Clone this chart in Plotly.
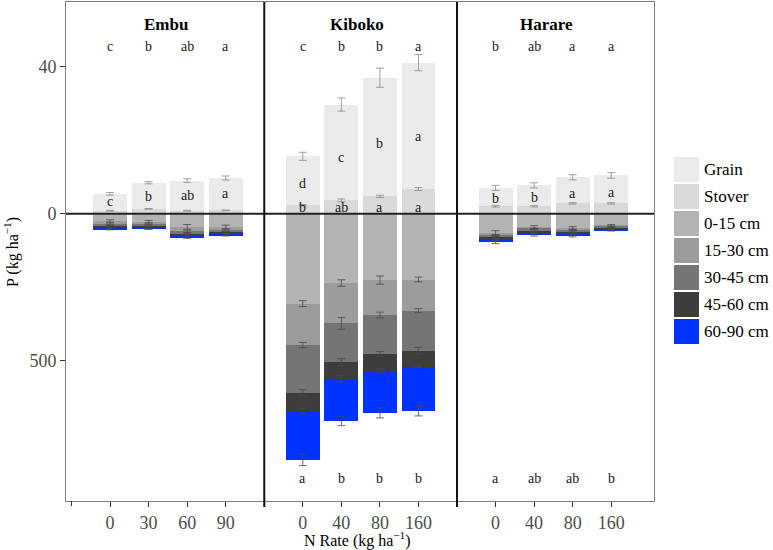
import plotly.graph_objects as go

# ---------------- data ----------------
sites = ["Embu", "Kiboko", "Harare"]
n_rates = [["0", "30", "60", "90"], ["0", "40", "80", "160"], ["0", "40", "80", "160"]]

# plant P (kg/ha), order: Embu x4, Kiboko x4, Harare x4
grain = [4.6, 7.1, 8.2, 8.8, 13.3, 26.1, 32.3, 34.4, 5.0, 5.7, 7.1, 7.6]
stover = [0.8, 1.3, 0.8, 0.9, 2.3, 3.6, 4.7, 6.7, 2.0, 2.0, 2.8, 2.8]
grain_se = [0.35, 0.3, 0.5, 0.55, 1.1, 1.8, 2.6, 2.2, 0.7, 0.7, 0.7, 0.75]
stover_se = [0.1, 0.1, 0.1, 0.1, 0.2, 0.4, 0.3, 0.4, 0.2, 0.2, 0.2, 0.2]

# soil P (kg/ha) by depth
soil_0_15 = [25, 27, 45, 45, 306, 236, 226, 224, 66, 46, 49, 40]
soil_15_30 = [10, 8, 15, 12, 141, 137, 119, 106, 8, 6, 6, 5]
soil_30_45 = [8, 7, 10, 8, 162, 132, 132, 136, 7, 6, 7, 5]
soil_45_60 = [6, 6, 8, 6, 63, 57, 57, 54, 8, 8, 8, 4]
soil_60_90 = [4, 4, 4, 3, 165, 144, 144, 152, 9, 7, 6, 3]
soil_0_15_se = [4, 4, 8, 6, 10, 11, 14, 8, 8, 5, 5, 3]
soil_15_30_se = [3, 3, 4, 3, 9, 20, 10, 7, 3, 3, 3, 2]
soil_30_45_se = [3, 3, 3, 3, 10, 12, 8, 11, 3, 3, 3, 2]
soil_45_60_se = [3, 3, 3, 3, 10, 11, 6, 4, 3, 3, 3, 2]
soil_60_90_se = [2, 2, 2, 2, 20, 15, 17, 16, 4, 3, 3, 2]

# significance letters
top_letters = ["c", "b", "ab", "a", "c", "b", "b", "a", "b", "ab", "a", "a"]
grain_letters = ["c", "b", "ab", "a", "d", "c", "b", "a", "b", "b", "a", "a"]
stover_letters = ["", "", "", "", "b", "ab", "a", "a", "", "", "", ""]
bottom_letters = ["", "", "", "", "a", "b", "b", "b", "a", "ab", "ab", "b"]

layer_names = ["0-15 cm", "15-30 cm", "30-45 cm", "45-60 cm", "60-90 cm"]
soil_layers = [soil_0_15, soil_15_30, soil_30_45, soil_45_60, soil_60_90]
soil_ses = [soil_0_15_se, soil_15_30_se, soil_30_45_se, soil_45_60_se, soil_60_90_se]

# --------------- styling ---------------
FONT = "Liberation Serif"
SOIL_SCALE = 12.5  # soil kg/ha per plotted unit (axis is split-scaled)
colors = {"Grain": "#EBEBEB", "Stover": "#D9D9D9", "0-15 cm": "#B3B3B3",
          "15-30 cm": "#9C9C9C", "30-45 cm": "#757575", "45-60 cm": "#3D3D3D",
          "60-90 cm": "#0033FF"}
BAR_W = 0.88

# positions: one continuous axis, panels separated by gaps
xpos = []
for s in range(len(sites)):
    for i in range(len(n_rates[s])):
        xpos.append(1 + s * 5 + i)

fig = go.Figure()

# plant part (positive)
fig.add_trace(go.Bar(x=xpos, y=stover, width=BAR_W, marker=dict(color=colors["Stover"], line_width=0),
                     showlegend=False))
fig.add_trace(go.Bar(x=xpos, y=grain, width=BAR_W, marker=dict(color=colors["Grain"], line_width=0),
                     showlegend=False))
# soil part (negative)
for name, vals in zip(layer_names, soil_layers):
    fig.add_trace(go.Bar(x=xpos, y=[-v / SOIL_SCALE for v in vals], width=BAR_W,
                         marker=dict(color=colors[name], line_width=0), showlegend=False))

# error bars
def add_err(y, e, color):
    fig.add_trace(go.Scatter(x=xpos, y=y, mode="markers", marker=dict(size=0.1, opacity=0),
                             error_y=dict(type="data", array=e, visible=True, color=color,
                                          thickness=0.8, width=4),
                             showlegend=False, hoverinfo="skip"))

add_err(stover, stover_se, "#8a8a8a")
add_err([a + b for a, b in zip(stover, grain)], grain_se, "#8a8a8a")
cum = [0.0] * len(xpos)
for vals, ses in zip(soil_layers, soil_ses):
    cum = [c + v for c, v in zip(cum, vals)]
    add_err([-c / SOIL_SCALE for c in cum], [e / SOIL_SCALE for e in ses], "#4a4a4a")

# letters
ann = []
def letter(x, y, t):
    if t:
        ann.append(dict(x=x, y=y, xref="x", yref="y", text=t, showarrow=False,
                        xanchor="center", yanchor="middle",
                        font=dict(family=FONT, size=14, color="#1a1a1a")))

TOP_Y, BOT_Y, STOVER_Y = 45.6, -72.2, 1.8
for k, x in enumerate(xpos):
    letter(x, TOP_Y, top_letters[k])
    letter(x, (stover[k] + grain[k]) / 2 + 0.5, grain_letters[k])
    letter(x, STOVER_Y, stover_letters[k])
    letter(x, BOT_Y, bottom_letters[k])

# panel titles
title_x = [2.45, 7.4, 12.33]
for s, name in enumerate(sites):
    ann.append(dict(x=title_x[s], y=51.6, xref="x", yref="y", text="<b>%s</b>" % name,
                    showarrow=False, xanchor="center", yanchor="middle",
                    font=dict(family=FONT, size=17, color="black")))

# plot area geometry in pixels
L, R, T, B = 66, 654, 2, 501
W, H = R - L, B - T
def px(xp):
    return (xp - L) / W
def py(yp):
    return (B - yp) / H

# axis titles
ann.append(dict(x=px(11), y=py(252), xref="paper", yref="paper", textangle=-90,
                xanchor="center", yanchor="middle",
                text="P (kg ha<sup>−1</sup>)", showarrow=False,
                font=dict(family=FONT, size=16, color="black")))
ann.append(dict(x=px(357), y=py(539), xref="paper", yref="paper",
                xanchor="center", yanchor="middle",
                text="N Rate (kg ha<sup>−1</sup>)", showarrow=False,
                font=dict(family=FONT, size=16, color="black")))

# manual legend
legend_names = ["Grain", "Stover"] + layer_names
shapes = []
for i, name in enumerate(legend_names):
    top = 157 + 27 * i
    shapes.append(dict(type="rect", xref="paper", yref="paper", x0=px(674), x1=px(699),
                       y0=py(top + 25), y1=py(top), fillcolor=colors[name], line_width=0))
    ann.append(dict(x=px(702), y=py(top + 12.5), xref="paper", yref="paper", text=name,
                    showarrow=False, xanchor="left", yanchor="middle",
                    font=dict(family=FONT, size=17, color="black")))

# zero line, panel separators, unlabeled left tick
shapes.append(dict(type="line", xref="paper", yref="y", x0=0, x1=1, y0=0, y1=0,
                   line=dict(color="#222", width=2)))
for xs in [5, 10]:
    shapes.append(dict(type="line", xref="x", yref="paper", x0=xs, x1=xs, y0=py(507), y1=1,
                       line=dict(color="#111", width=2)))
shapes.append(dict(type="line", xref="x", yref="paper", x0=0, x1=0, y0=py(506), y1=0,
                   line=dict(color="#333", width=1)))

tickvals = xpos
ticktext = [t for r in n_rates for t in r]

fig.update_layout(
    width=773, height=550,
    margin=dict(l=L, r=773 - R, t=T, b=550 - B, autoexpand=False),
    barmode="relative", bargap=0,
    plot_bgcolor="white", paper_bgcolor="white",
    showlegend=False,
    annotations=ann, shapes=shapes,
    font=dict(family=FONT),
    xaxis=dict(range=[-0.143, 15.11], tickvals=tickvals, ticktext=ticktext,
               showgrid=False, zeroline=False, showline=True, mirror=True,
               linecolor="#7f7f7f", linewidth=1, ticks="outside", ticklen=5,
               tickcolor="#333", tickfont=dict(family=FONT, size=18, color="#4d4d4d")),
    yaxis=dict(range=[-78.2, 57.6], tickvals=[40, 0, -500 / SOIL_SCALE],
               ticktext=["40", "0", "500"],
               showgrid=False, zeroline=False, showline=True, mirror=True,
               linecolor="#7f7f7f", linewidth=1, ticks="outside", ticklen=5,
               tickcolor="#333", tickfont=dict(family=FONT, size=18, color="#4d4d4d")),
)

fig.write_html("out.html", config={"displayModeBar": False},
               post_script="document.body.style.margin='0';document.body.style.overflow='hidden';")
